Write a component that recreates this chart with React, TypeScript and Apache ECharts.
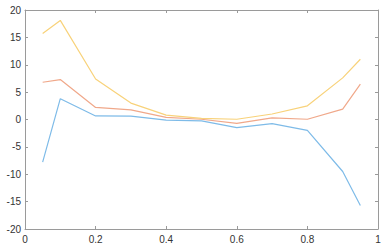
import React, { useEffect, useRef } from "react";
import * as echarts from "echarts";

const xValues = [0.05, 0.1, 0.2, 0.3, 0.4, 0.5, 0.6, 0.7, 0.8, 0.9, 0.95];
const yellowSeries = [15.7, 18.1, 7.4, 3.0, 0.8, 0.2, 0.05, 1.0, 2.5, 7.6, 11.0];
const orangeSeries = [6.8, 7.3, 2.2, 1.75, 0.4, 0.05, -0.7, 0.3, 0.05, 1.9, 6.45];
const blueSeries = [-7.8, 3.8, 0.65, 0.6, -0.1, -0.25, -1.5, -0.75, -2.0, -9.5, -15.7];

const pair = (ys: number[]) => xValues.map((x, i) => [x, ys[i]]);

export default function App() {
  const ref = useRef<HTMLDivElement>(null);
  useEffect(() => {
    if (!ref.current) return;
    const chart = echarts.init(ref.current, undefined, { renderer: "svg" });
    const axisLine = { show: true, onZero: false, lineStyle: { color: "#9a9a9a", width: 1 } };
    const axisTick = { show: true, inside: true, length: 3, lineStyle: { color: "#9a9a9a" } };
    const label = { color: "#333", fontSize: 10, fontFamily: "Liberation Sans, Arial, sans-serif" };
    chart.setOption({
      animation: false,
      backgroundColor: "#fff",
      grid: { left: 25, right: 6, top: 10, bottom: 17, containLabel: false },
      xAxis: [
        {
          type: "value", min: 0, max: 1, interval: 0.2, position: "bottom",
          axisLine, axisTick, splitLine: { show: false },
          axisLabel: { ...label, margin: 5, formatter: (v: number) => (v === 0 || v === 1 ? String(v) : v.toFixed(1)) },
        },
        {
          type: "value", min: 0, max: 1, interval: 0.2, position: "top",
          axisLine, axisTick, splitLine: { show: false }, axisLabel: { show: false },
        },
      ],
      yAxis: [
        {
          type: "value", min: -20, max: 20, interval: 5, position: "left",
          axisLine, axisTick, splitLine: { show: false },
          axisLabel: { ...label, margin: 4 },
        },
        {
          type: "value", min: -20, max: 20, interval: 5, position: "right",
          axisLine, axisTick, splitLine: { show: false }, axisLabel: { show: false },
        },
      ],
      series: [
        { type: "line", data: pair(blueSeries), showSymbol: false, lineStyle: { color: "#7ebbe8", width: 1.2 } },
        { type: "line", data: pair(orangeSeries), showSymbol: false, lineStyle: { color: "#f0a88a", width: 1.2 } },
        { type: "line", data: pair(yellowSeries), showSymbol: false, lineStyle: { color: "#f8d27a", width: 1.2 } },
      ],
    });
    return () => chart.dispose();
  }, []);
  return <div ref={ref} style={{ position: "absolute", left: 0, top: 0, width: 384, height: 246 }} />;
}
